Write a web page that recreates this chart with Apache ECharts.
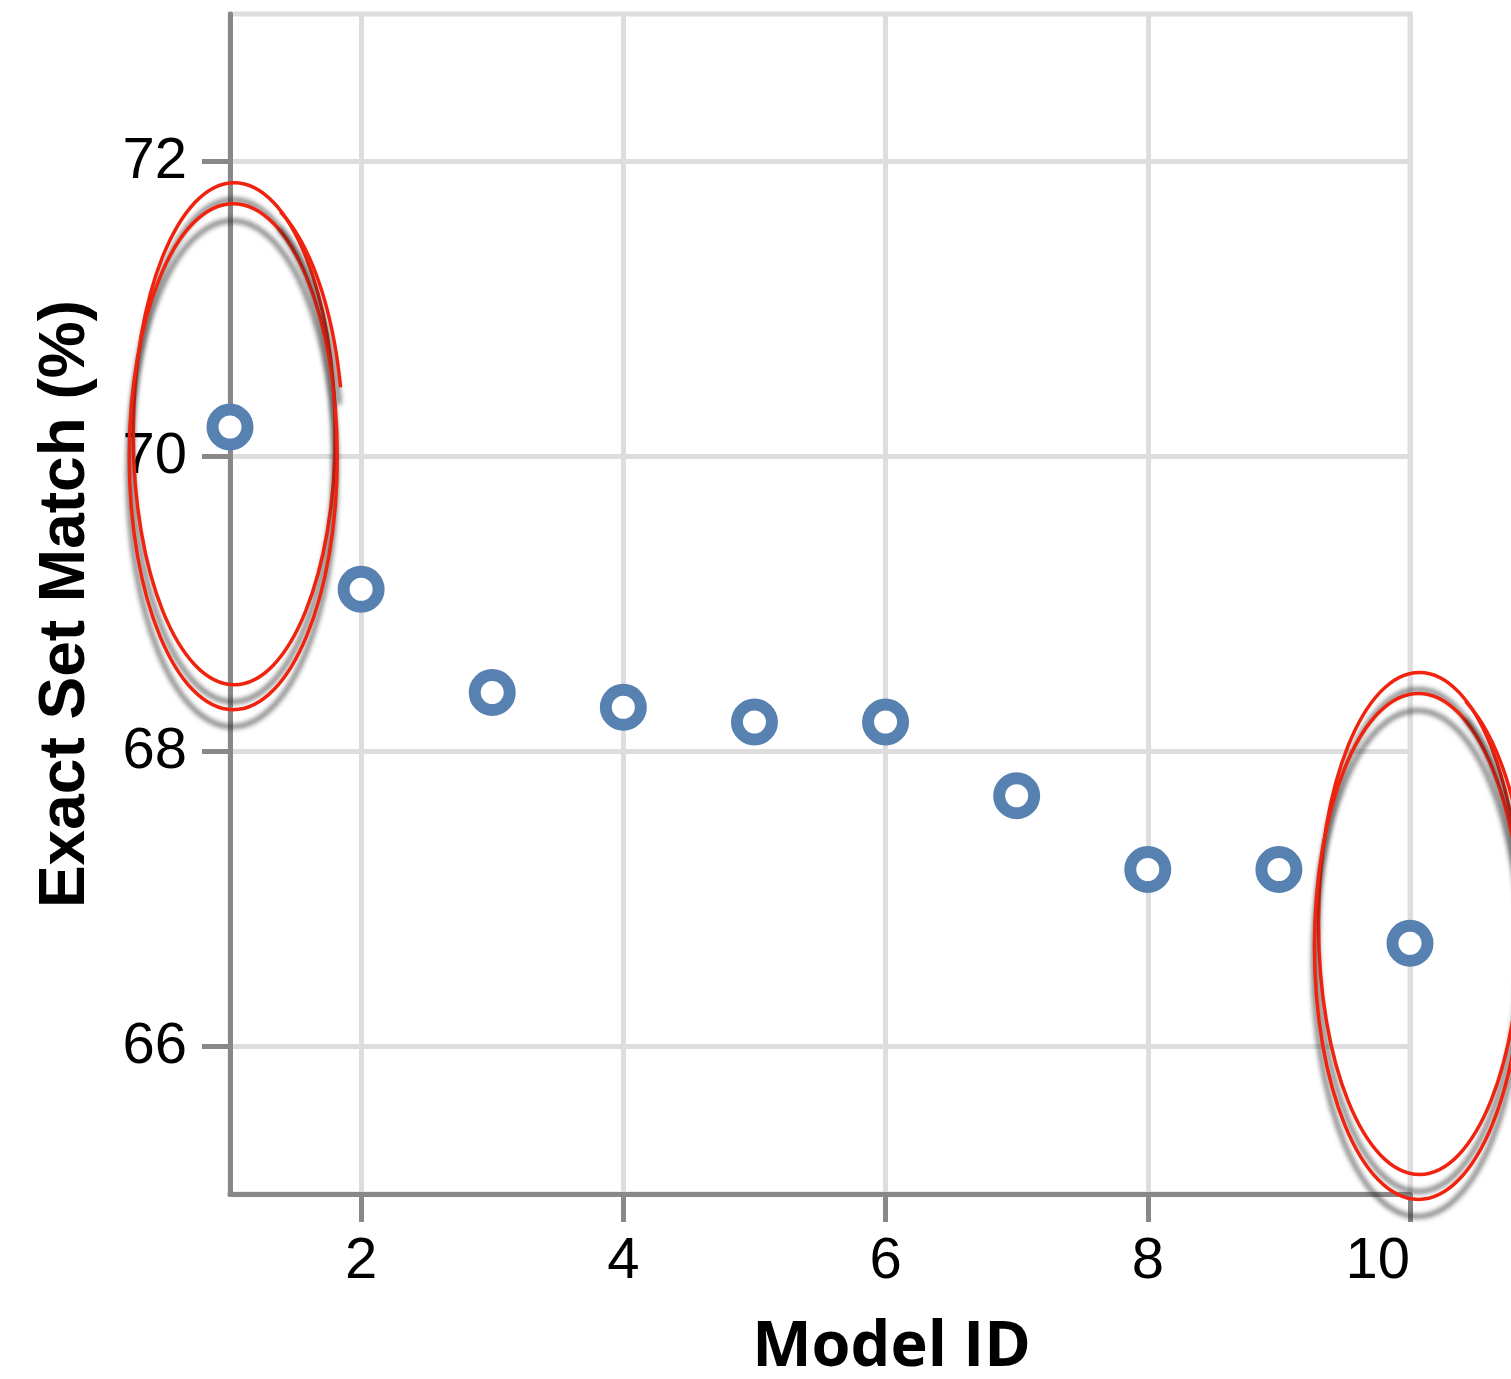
<!DOCTYPE html>
<html>
<head>
<meta charset="utf-8">
<title>Exact Set Match by Model</title>
<script src="https://cdn.jsdelivr.net/npm/echarts@6/dist/echarts.min.js"></script>
<style>
  html, body { margin: 0; padding: 0; background: #ffffff; }
  #chart { width: 1511px; height: 1379px; }
</style>
</head>
<body>
<div id="chart"></div>
<script>
// Model identifiers and their exact set match scores (%)
const modelIds = [1, 2, 3, 4, 5, 6, 7, 8, 9, 10];
const exactSetMatch = [70.2, 69.1, 68.4, 68.3, 68.2, 68.2, 67.7, 67.2, 67.2, 66.7];

// Axis ranges and tick positions
const xRange = [1, 10];
const yRange = [65, 73];
const xTicks = [2, 4, 6, 8, 10];
const yTicks = [66, 68, 70, 72];

// Centres (in data units) of the hand-drawn circles around the best and worst models
const circledCentres = [[1.04, 70.08], [10.08, 66.76]];

const chart = echarts.init(document.getElementById('chart'), null, { renderer: 'canvas' });

const AXIS_GREY = '#888888';
const GRID_GREY = '#dddddd';
const POINT_BLUE = '#5781b0';
const PEN_RED = '#f0230f';
const tickFont = { fontFamily: '"Liberation Sans", Arial, Helvetica, sans-serif', fontSize: 58, color: '#000000' };

chart.setOption({
  animation: false,
  backgroundColor: '#ffffff',
  grid: {
    left: 230, right: 101, top: 14, bottom: 185,
    outerBoundsMode: 'none',
    containLabel: false,
    show: true, borderColor: GRID_GREY, borderWidth: 5, backgroundColor: 'transparent'
  },
  xAxis: {
    type: 'value',
    min: xRange[0], max: xRange[1],
    name: 'Model ID',
    nameLocation: 'middle',
    nameGap: 123,
    nameTextStyle: {
      fontFamily: '"Open Sans", "Noto Sans", sans-serif',
      fontWeight: 700, fontSize: 63, color: '#000000',
      padding: [0, 0, 0, 143]
    },
    axisLine: { show: true, onZero: false, lineStyle: { color: AXIS_GREY, width: 5 } },
    axisTick: { show: true, length: 28, lineStyle: { color: AXIS_GREY, width: 5 }, customValues: xTicks },
    axisLabel: Object.assign({ margin: 39, customValues: xTicks, alignMaxLabel: 'right' }, tickFont),
    splitLine: { show: true, lineStyle: { color: GRID_GREY, width: 5 } }
  },
  yAxis: {
    type: 'value',
    min: yRange[0], max: yRange[1],
    name: 'Exact Set Match (%)',
    nameLocation: 'middle',
    nameRotate: 90,
    nameGap: 132,
    nameTextStyle: {
      fontFamily: '"Liberation Sans", Arial, Helvetica, sans-serif',
      fontWeight: 'bold', fontSize: 64, color: '#000000'
    },
    axisLine: { show: true, onZero: false, lineStyle: { color: AXIS_GREY, width: 5 } },
    axisTick: { show: true, length: 28, lineStyle: { color: AXIS_GREY, width: 5 }, customValues: yTicks },
    axisLabel: Object.assign({ margin: 43, customValues: yTicks }, tickFont),
    splitLine: { show: true, lineStyle: { color: GRID_GREY, width: 5 } }
  },
  series: [{
    type: 'scatter',
    data: modelIds.map((id, i) => [id, exactSetMatch[i]]),
    symbol: 'circle',
    symbolSize: 35,
    itemStyle: { color: '#ffffff', borderColor: POINT_BLUE, borderWidth: 12, opacity: 1 },
    emphasis: { disabled: true },
    z: 5
  }]
});

// Hand-drawn red loops (with a soft drop shadow) around the circled models
function penStyle() {
  return {
    stroke: PEN_RED, lineWidth: 3.5, fill: null,
    shadowColor: 'rgba(30,30,30,0.75)', shadowBlur: 5,
    shadowOffsetX: -1, shadowOffsetY: 17
  };
}

function arcPoints(cx, cy, rx, ry, fromDeg, toDeg, steps) {
  const pts = [];
  for (let k = 0; k <= steps; k++) {
    const a = (fromDeg + (toDeg - fromDeg) * k / steps) * Math.PI / 180;
    pts.push([cx + rx * Math.cos(a), cy + ry * Math.sin(a)]);
  }
  return pts;
}

const graphics = [];
circledCentres.forEach(c => {
  const p = chart.convertToPixel({ gridIndex: 0 }, c);
  graphics.push({
    type: 'ellipse', silent: true, z: 100,
    shape: { cx: p[0] - 1, cy: p[1] - 11, rx: 101, ry: 251 },
    style: penStyle()
  });
  graphics.push({
    type: 'ellipse', silent: true, z: 100,
    shape: { cx: p[0] - 2, cy: p[1] + 12, rx: 104, ry: 253 },
    style: penStyle()
  });
  graphics.push({
    type: 'polyline', silent: true, z: 100,
    shape: { points: arcPoints(p[0] + 2, p[1], 106, 255, -66, -13, 40) },
    style: penStyle()
  });
});
chart.setOption({ graphic: graphics });
</script>
</body>
</html>
